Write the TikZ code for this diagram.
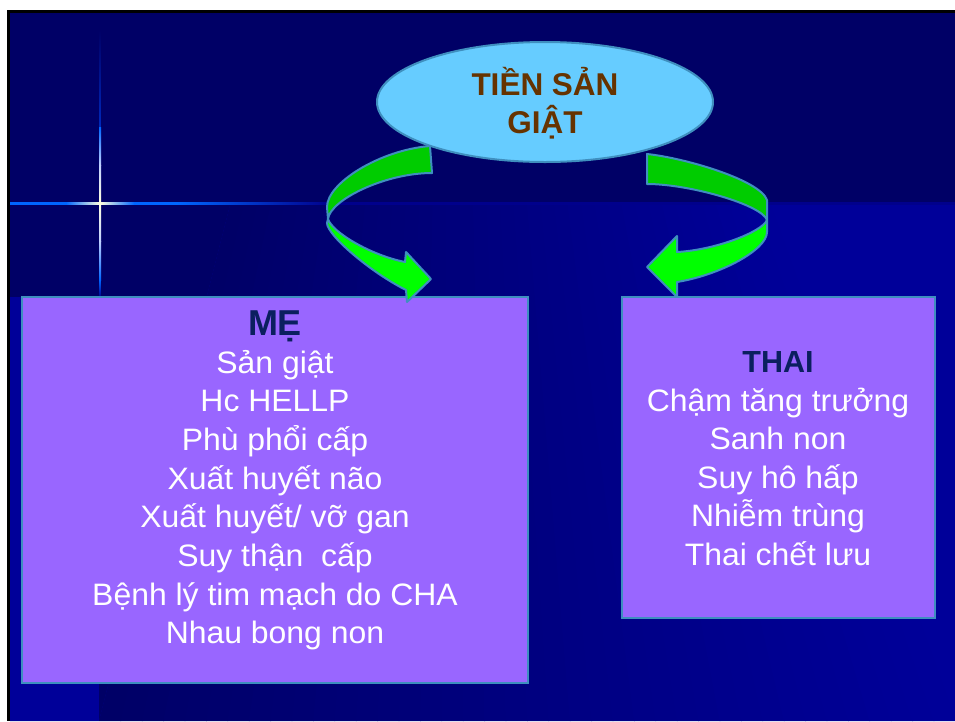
\documentclass[tikz,border=0pt]{standalone}
\usepackage{fontspec}
\setmainfont{Liberation Sans}
\newfontfamily\bodyfont[FakeStretch=1.03]{Liberation Sans}
\usetikzlibrary{shapes.geometric}
\definecolor{bgdark}{HTML}{000066}
\definecolor{bgblue}{HTML}{000099}
\definecolor{linecol}{HTML}{00008C}
\definecolor{starblue}{HTML}{0066FF}
\definecolor{starpale}{HTML}{C0D0FF}
\definecolor{starcream}{HTML}{FFFFE0}
\definecolor{boxfill}{HTML}{9966FF}
\definecolor{edgeblue}{HTML}{3F8FBF}
\definecolor{ellfill}{HTML}{66CCFF}
\definecolor{backgreen}{HTML}{00CC00}
\definecolor{frontgreen}{HTML}{00FF00}
\definecolor{titleblue}{HTML}{0B1F5F}
\definecolor{ellbrown}{HTML}{663300}
\begin{document}
\begin{tikzpicture}[x=1pt,y=-1pt,
  panel/.style={draw=edgeblue, line width=2pt, fill=boxfill, inner sep=0pt},
  ell/.style={ellipse, draw=edgeblue, line width=2pt, fill=ellfill, inner sep=0pt,
    minimum width=336pt, minimum height=120pt},
  bodytext/.style={text=white, anchor=base, inner sep=0pt, font=\bodyfont\fontsize{31}{37}\selectfont},
  headtext/.style={text=titleblue, anchor=base, inner sep=0pt, font=\bfseries\fontsize{36}{40}\selectfont},
  thaitext/.style={text=titleblue, anchor=base, inner sep=0pt, font=\bfseries\fontsize{30.5}{36}\selectfont},
  elltext/.style={text=ellbrown, anchor=base, inner sep=0pt, font=\bfseries\fontsize{31.5}{38}\selectfont},
  backface/.style={fill=backgreen, draw=edgeblue, line width=2pt, line join=round},
  frontface/.style={fill=frontgreen, draw=edgeblue, line width=2pt, line join=round}
]
\useasboundingbox (0,0) rectangle (955,721);
% slide background
\fill[white] (0,0) rectangle (955,721);
\fill[black] (7,10) rectangle (955,721);
\fill[bgdark] (10,13) rectangle (955,721);
\fill[bgblue] (10,205) rectangle (955,721);
\fill[bgdark] (10,205) -- (230,205) -- (99,721) -- (10,721) -- cycle;
\foreach \k in {0,...,39} {
  \pgfmathsetmacro\p{100*(\k+0.5)/40}
  \fill[bgblue!\p!bgdark] ({230+13.5*\k},205) -- ({230+13.5*(\k+1)+0.8},205)
     -- ({99+21.4*(\k+1)+0.8},721) -- ({99+21.4*\k},721) -- cycle;
}
\fill[bgblue] (10,297) rectangle (99,721);
% horizontal rule
\fill[linecol] (10,202) rectangle (955,204.6);
% star
\fill[starblue] (10,202) rectangle (66,204.6);
\shade[left color=starblue, right color=starcream] (66,202.2) rectangle (100,204.4);
\shade[left color=starcream, right color=starblue] (100,202.2) rectangle (134,204.4);
\fill[starblue] (134,202) rectangle (177,204.6);
\shade[left color=starblue, right color=linecol] (177,202) rectangle (330,204.6);
\shade[top color=bgdark, bottom color=linecol!60!starblue] (99.2,30) rectangle (100.8,127);
\shade[top color=starblue, bottom color=starpale] (99,127) rectangle (101,165);
\shade[top color=starpale, bottom color=starcream] (99,165) rectangle (101,203);
\shade[top color=starcream, bottom color=starpale] (99,203) rectangle (101,241);
\shade[top color=starpale, bottom color=starblue] (99,241) rectangle (101,280);
\shade[top color=starblue, bottom color=linecol] (99.2,280) rectangle (100.8,297);
% boxes
\node[panel, minimum width=506pt, minimum height=386pt] (mebox) at (275,490) {};
\node[panel, minimum width=313pt, minimum height=321pt] (thaibox) at (778.5,457.5) {};
% left curved arrow
\filldraw[backface]
  (430,146) .. controls (380,150) and (327,183) .. (327,207)
  -- (328,219)
  .. controls (330,200) and (385,173) .. (432,173)
  -- cycle;
\filldraw[frontface]
  (328,219) -- (327,223)
  .. controls (327,235) and (370,272) .. (406,290)
  -- (407,302) -- (431,279) -- (406,252) -- (405,262)
  .. controls (370,255) and (332,232) .. (328,219)
  -- cycle;
% right curved arrow
\filldraw[backface]
  (647,154) .. controls (685,158) and (760,180) .. (767,200)
  -- (767,220)
  .. controls (762,205) and (690,184) .. (647,184)
  -- cycle;
\filldraw[frontface]
  (767,220) -- (767,232)
  .. controls (767,250) and (720,275) .. (677,282)
  -- (677,297) -- (647,267) -- (677,236) -- (677,252)
  .. controls (715,250) and (762,232) .. (767,220)
  -- cycle;
% ellipse
\node[ell] (tsg) at (545,102) {};
\node[elltext] (tsg1) at (545,95) {TIỀN SẢN};
\node[elltext] (tsg2) at (545,133) {GIẬT};
% left box text
\node[headtext] (mehead) at (275,335) {MẸ};
\foreach \s [count=\i] in {Sản giật, Hc HELLP, Phù phổi cấp, Xuất huyết não,
    Xuất huyết/ vỡ gan, Suy thận\ \ cấp, Bệnh lý tim mạch do CHA, Nhau bong non}
  \node[bodytext] (me\i) at (275,{373+38.67*(\i-1)}) {\s};
% right box text
\node[thaitext] (thaihead) at (778,372.5) {THAI};
\foreach \s [count=\i] in {Chậm tăng trưởng, Sanh non, Suy hô hấp, Nhiễm trùng, Thai chết lưu}
  \node[bodytext] (th\i) at (778,{372.5+38.5*\i}) {\s};
\end{tikzpicture}
\end{document}
